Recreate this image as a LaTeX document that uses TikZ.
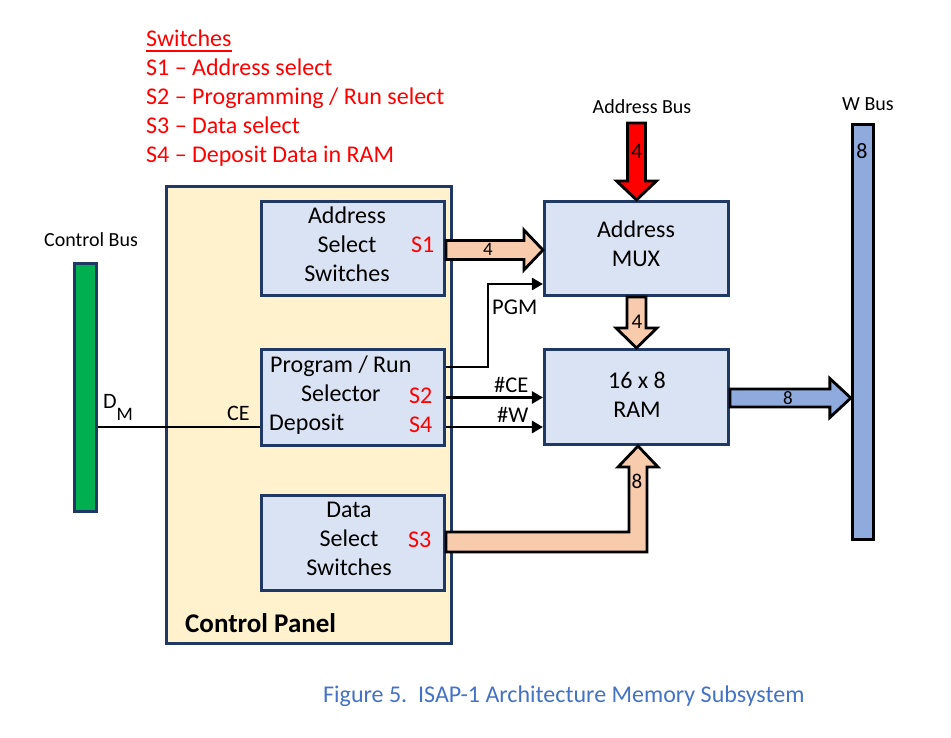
\documentclass[tikz,border=0pt]{standalone}
\usepackage{fontspec}
\setmainfont{Carlito}
\usetikzlibrary{calc,arrows.meta}
\definecolor{navy}{HTML}{1F3864}
\definecolor{boxblue}{HTML}{DAE3F3}
\definecolor{panelcol}{HTML}{FFF2CC}
\definecolor{peach}{HTML}{F8CBAD}
\definecolor{wblue}{HTML}{8FAADC}
\definecolor{busgreen}{HTML}{00B050}
\definecolor{capblue}{HTML}{4472C4}
\begin{document}
\begin{tikzpicture}[x=1pt,y=-1pt,
  box/.style={draw=navy, line width=2.6pt, fill=boxblue, inner sep=0pt},
  txt/.style={inner sep=0pt, font=\fontsize{24}{29}\selectfont},
  stxt/.style={inner sep=0pt, font=\fontsize{20}{24}\selectfont},
  sw/.style={txt, text=red, anchor=base west},
  num/.style={inner sep=0pt, font=\fontsize{#1}{#1}\selectfont},
  blk/.style={draw=black, line width=2.8pt, line join=miter},
  sig/.style={draw=black, line width=2.8pt},
  sigarrow/.style={sig, -{Triangle[length=11pt,width=12pt]}}]
\useasboundingbox (0,0) rectangle (951,738);

% switches legend
\node[sw] (swt) at (146,47) {Switches};
\draw[red, line width=1.6pt] ($(swt.base west)+(0,4)$) -- ($(swt.base east)+(0,4)$);
\node[sw] (s1l) at (146,76) {S1 – Address select};
\node[sw] (s2l) at (146,105) {S2 – Programming / Run select};
\node[sw] (s3l) at (146,134) {S3 – Data select};
\node[sw] (s4l) at (146,163) {S4 – Deposit Data in RAM};

% buses
\node[draw=navy, fill=busgreen, line width=2.6pt, inner sep=0pt, minimum width=22.5pt, minimum height=248.5pt] (cbus) at (85.5,387.5) {};
\node[stxt, anchor=base] (cbusl) at (91,247) {Control Bus};
\node[draw=black, fill=wblue, line width=2.8pt, inner sep=0pt, minimum width=21.5pt, minimum height=415.5pt] (wbus) at (863,332) {};
\node[stxt, anchor=base] (wbusl) at (868,111) {W Bus};
\node[num=22] (wbus8) at (862,151) {8};

% control panel
\node[box, fill=panelcol, minimum width=285.5pt, minimum height=457.5pt] (panel) at (309,415) {};
\node[inner sep=0pt, anchor=base west, font=\fontsize{27}{30}\selectfont\bfseries] (panell) at (185,632) {Control Panel};

\node[box, minimum width=183.5pt, minimum height=94.5pt] (asel) at (353,248.5) {};
\node[box, minimum width=183.5pt, minimum height=96.5pt] (prog) at (353,397.5) {};
\node[box, minimum width=183.5pt, minimum height=95.5pt] (dsel) at (353,543) {};
\node[box, minimum width=184.5pt, minimum height=94.5pt] (mux) at (636.5,248.5) {};
\node[box, minimum width=184.5pt, minimum height=95.5pt] (ram) at (636.5,397) {};

% box texts
\node[txt, anchor=base] (a1) at (347,224) {Address};
\node[txt, anchor=base] (a2) at (347,253) {Select};
\node[txt, anchor=base] (a3) at (347,282) {Switches};
\node[txt, anchor=base west, text=red] (s1) at (411,253) {S1};

\node[txt, anchor=base west] (p1) at (270,372) {Program / Run};
\node[txt, anchor=base west] (p2) at (301,401) {Selector};
\node[txt, anchor=base west] (p3) at (269,430) {Deposit};
\node[txt, anchor=base west, text=red] (s2) at (409,403) {S2};
\node[txt, anchor=base west, text=red] (s4) at (409,432) {S4};

\node[txt, anchor=base] (d1) at (349,517) {Data};
\node[txt, anchor=base] (d2) at (349,546) {Select};
\node[txt, anchor=base] (d3) at (349,575) {Switches};
\node[txt, anchor=base west, text=red] (s3) at (408,547) {S3};

\node[txt, anchor=base] (m1) at (636,238) {Address};
\node[txt, anchor=base] (m2) at (636,267) {MUX};
\node[txt, anchor=base] (r1) at (637,388) {16 x 8};
\node[txt, anchor=base] (r2) at (637,417) {RAM};

% address bus arrow
\coordinate (abus) at (636.5,123);
\node[stxt, anchor=base] (abusl) at (642,114) {Address Bus};
\draw[blk, fill=red] ($(abus)+(-9,0)$) -- ($(mux.north)+(-9,-19)$) -- ($(mux.north)+(-20,-19)$) -- (mux.north) -- ($(mux.north)+(20,-19)$) -- ($(mux.north)+(9,-19)$) -- ($(abus)+(9,0)$) -- cycle;
\node[num=22] (ab4) at (637,151) {4};

% S1 -> MUX
\draw[blk, fill=peach] ($(asel.east)+(0,-8)$) -- ($(mux.west)+(-19,-8)$) -- ($(mux.west)+(-19,-18.5)$) -- ($(mux.west)+(0,1.5)$) -- ($(mux.west)+(-19,21.5)$) -- ($(mux.west)+(-19,11)$) -- ($(asel.east)+(0,11)$) -- cycle;
\node[num=19] (as4) at (488,249) {4};

% MUX -> RAM
\draw[blk, fill=peach] ($(mux.south)+(-9.5,0)$) -- ($(ram.north)+(-9.5,-20)$) -- ($(ram.north)+(-20.5,-20)$) -- (ram.north) -- ($(ram.north)+(20.5,-20)$) -- ($(ram.north)+(9.5,-20)$) -- ($(mux.south)+(9.5,0)$) -- cycle;
\node[num=21] (mr4) at (637,322) {4};

% RAM -> W bus
\coordinate (wt) at (ram.east -| wbus.west);
\draw[blk, fill=wblue] ($(ram.east)+(0,-8)$) -- ($(wt)+(-21,-8)$) -- ($(wt)+(-21,-18.5)$) -- ($(wt)+(0,1)$) -- ($(wt)+(-21,20.5)$) -- ($(wt)+(-21,10)$) -- ($(ram.east)+(0,10)$) -- cycle;
\node[num=19] (rw8) at (788,398) {8};

% Data select -> RAM
\coordinate (dT) at ($(ram.south)+(1.5,0)$);
\coordinate (dTop) at ($(dsel.east)+(0,-11)$);
\coordinate (dBot) at ($(dsel.east)+(0,9)$);
\coordinate (vL) at ($(dT)+(-9,21)$);
\coordinate (vR) at ($(dT)+(9,21)$);
\draw[blk, fill=peach] (dTop) -- (vL |- dTop) -- (vL) -- ($(dT)+(-20,21)$) -- (dT) -- ($(dT)+(20,21)$) -- (vR) -- (vR |- dBot) -- (dBot) -- cycle;
\node[num=21] (ds8) at (637,481) {8};

% control signals
\draw[sigarrow] ($(prog.east)+(0,-30.5)$) -| ($(mux.west)+(-55,35.5)$) -- ($(mux.west)+(0,35.5)$);
\node[inner sep=0pt, anchor=base west, font=\fontsize{22.5}{24}\selectfont] (pgm) at (492,315) {PGM};
\draw[sigarrow] (prog.east) -- (prog.east -| ram.west);
\node[inner sep=0pt, anchor=base west, font=\fontsize{22.5}{24}\selectfont] (ce) at (494,392) {\#CE};
\coordinate (wsrc) at ($(prog.east)+(0,29.5)$);
\draw[sigarrow] (wsrc) -- (wsrc -| ram.west);
\node[inner sep=0pt, anchor=base west, font=\fontsize{22.5}{24}\selectfont] (wl) at (497,422) {\#W};

\coordinate (dep) at ($(prog.west)+(0,29.5)$);
\draw[sig] (cbus.east |- dep) -- (dep);
\node[inner sep=0pt, anchor=base west, font=\fontsize{22}{24}\selectfont] (dm) at (103,408) {D\raisebox{-12pt}{\fontsize{19}{19}\selectfont M}};
\node[inner sep=0pt, anchor=base west, font=\fontsize{22}{24}\selectfont] (cel) at (227,420) {CE};

% caption
\node[txt, anchor=base west, text=capblue] (cap) at (323,702) {Figure 5.\ \ ISAP-1 Architecture Memory Subsystem};
\end{tikzpicture}
\end{document}
